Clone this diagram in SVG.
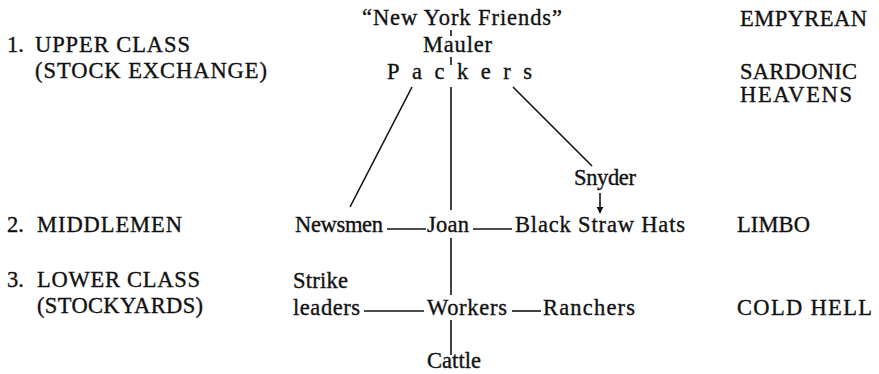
<svg xmlns="http://www.w3.org/2000/svg" width="879" height="374" viewBox="0 0 879 374">
<defs>
<style>
.t text{font-family:"Liberation Serif","Times New Roman",serif;font-size:22.5px;fill:#111;stroke:#111;stroke-width:0.35px;}
.ln{stroke:#111;stroke-width:1.6;fill:none;}
</style>
<marker id="ah" viewBox="0 0 10 10" refX="9" refY="5" markerWidth="7" markerHeight="8" markerUnits="userSpaceOnUse" orient="auto"><path d="M0,0 L10,5 L0,10 z" fill="#111"/></marker>
</defs>
<rect width="879" height="374" fill="#fff"/>
<g id="levels" class="t">
<text x="7" y="52">1.</text>
<text x="35" y="52" textLength="155" lengthAdjust="spacing">UPPER  CLASS</text>
<text x="35" y="78" textLength="232" lengthAdjust="spacing">(STOCK  EXCHANGE)</text>
<text x="7" y="232">2.</text>
<text x="37" y="232" textLength="145" lengthAdjust="spacing">MIDDLEMEN</text>
<text x="7" y="287">3.</text>
<text x="37" y="287" textLength="163" lengthAdjust="spacing">LOWER  CLASS</text>
<text x="37" y="313" textLength="166" lengthAdjust="spacing">(STOCKYARDS)</text>
</g>
<g id="realms" class="t">
<text x="740" y="26" textLength="127" lengthAdjust="spacing">EMPYREAN</text>
<text x="740" y="79" textLength="117" lengthAdjust="spacing">SARDONIC</text>
<text x="740" y="102" textLength="112" lengthAdjust="spacing">HEAVENS</text>
<text x="737" y="232" textLength="73" lengthAdjust="spacing">LIMBO</text>
<text x="737" y="315" textLength="135" lengthAdjust="spacing">COLD  HELL</text>
</g>
<g id="connectors">
<line class="ln" x1="451" y1="30" x2="451" y2="36"/>
<line class="ln" x1="451" y1="57" x2="451" y2="65"/>
<line class="ln" x1="451" y1="87" x2="451" y2="210"/>
<line class="ln" x1="412" y1="87" x2="350" y2="207"/>
<line class="ln" x1="513" y1="87" x2="592" y2="166"/>
<line class="ln" x1="600" y1="193" x2="600" y2="213" marker-end="url(#ah)"/>
<line class="ln" x1="387" y1="229" x2="426" y2="229"/>
<line class="ln" x1="473" y1="229" x2="512" y2="229"/>
<line class="ln" x1="451" y1="238" x2="451" y2="295"/>
<line class="ln" x1="364" y1="311" x2="424" y2="311"/>
<line class="ln" x1="512" y1="311" x2="541" y2="311"/>
<line class="ln" x1="451" y1="320" x2="451" y2="355"/>
</g>
<g class="t">
<g id="newyorkfriends"><text x="362" y="25" textLength="200" lengthAdjust="spacing">“New  York  Friends”</text></g>
<g id="mauler"><text x="423" y="52" textLength="69" lengthAdjust="spacing">Mauler</text></g>
<g id="packers"><text x="387" y="79" textLength="145" lengthAdjust="spacing">Packers</text></g>
<g id="snyder"><text x="574" y="185" textLength="62" lengthAdjust="spacing">Snyder</text></g>
<g id="newsmen"><text x="295" y="232" textLength="88" lengthAdjust="spacing">Newsmen</text></g>
<g id="joan"><text x="427" y="232" textLength="42" lengthAdjust="spacing">Joan</text></g>
<g id="blackstrawhats"><text x="515" y="232" textLength="170" lengthAdjust="spacing">Black  Straw  Hats</text></g>
<g id="strikeleaders"><text x="293" y="288" textLength="55" lengthAdjust="spacing">Strike</text><text x="293" y="315" textLength="67" lengthAdjust="spacing">leaders</text></g>
<g id="workers"><text x="427" y="315" textLength="80" lengthAdjust="spacing">Workers</text></g>
<g id="ranchers"><text x="543" y="315" textLength="92" lengthAdjust="spacing">Ranchers</text></g>
<g id="cattle"><text x="427" y="368" textLength="54" lengthAdjust="spacing">Cattle</text></g>
</g>
</svg>
